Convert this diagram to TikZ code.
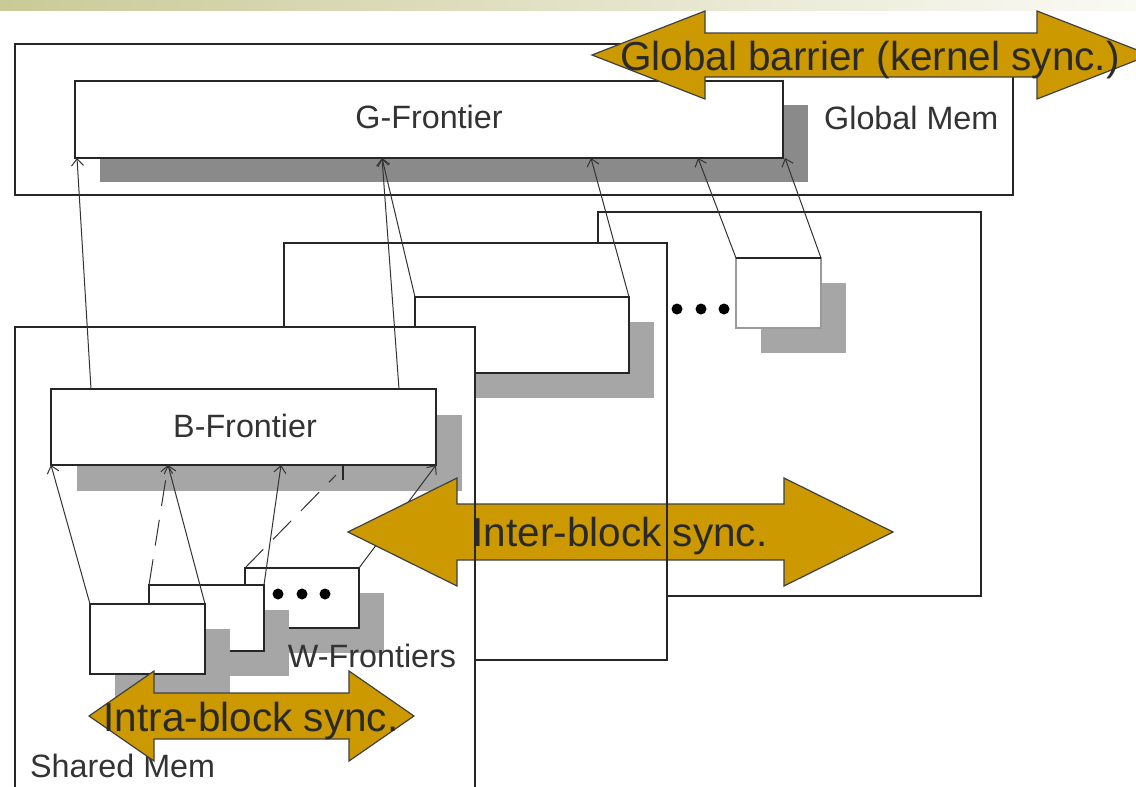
\documentclass[tikz,border=0pt]{standalone}
\usepackage{fontspec}
\setmainfont{Liberation Sans}
\usetikzlibrary{arrows.meta,shadows,calc}

\definecolor{frameink}{HTML}{262626}
\definecolor{wireink}{HTML}{333333}
\definecolor{syncgold}{HTML}{CC9900}
\definecolor{syncedge}{HTML}{404040}
\definecolor{darkshade}{HTML}{8A8A8A}
\definecolor{lightshade}{HTML}{A6A6A6}
\definecolor{labelink}{HTML}{333333}
\definecolor{synctext}{HTML}{2A2A2A}
\definecolor{bannerleft}{HTML}{CACA98}
\definecolor{bannerright}{HTML}{FAFAF5}
\definecolor{softedge}{HTML}{9A9A9A}

\tikzset{
  region/.style 2 args={anchor=north west, inner sep=0pt, outer sep=0pt,
    minimum width=#1, minimum height=#2},
  frame/.style={draw=frameink, line width=1.8pt, fill=white},
  frameedge/.style={draw=frameink, line width=1.8pt},
  shadedark/.style={drop shadow={shadow xshift=25pt, shadow yshift=-24pt,
    fill=darkshade, opacity=1}},
  shadelight/.style={drop shadow={shadow xshift=25pt, shadow yshift=-25pt,
    fill=lightshade, opacity=1}},
  lbl/.style={font=\fontsize{32.3}{38}\selectfont, text=labelink,
    inner sep=0pt, anchor=base},
  synclbl/.style={font=\fontsize{40.5}{46}\selectfont, text=synctext,
    inner sep=0pt, anchor=base},
  wire/.style={draw=wireink, line width=1pt,
    -{Straight Barb[length=7pt,width=12pt]}},
  dashwire/.style={wire, dash pattern=on 26pt off 14pt},
  syncarrow/.style={fill=syncgold, draw=syncedge, line width=1.2pt,
    line join=miter},
  dot/.style={fill=black},
}

\begin{document}
\begin{tikzpicture}[x=1pt,y=-1pt]
\clip (0,0) rectangle (1136,787);
\fill[white] (0,0) rectangle (1136,787);
\shade[left color=bannerleft, right color=bannerright] (0,0) rectangle (1136,10);

% ---------- global memory with the grid-wide frontier ----------
\node[frame, region={998}{151}] (gmem) at (15,44) {};
\node[frame, region={708}{77}, shadedark] (gf) at (75,81) {};
\node[lbl] (gflbl) at (429,128) {G-Frontier};
\node[lbl, anchor=base west] (gmemlbl) at (824,129) {Global Mem};

% ---------- third block (back) ----------
\node[frame, region={383}{384}] (blk3) at (598,212) {};
\node[region={85}{70}, fill=white, draw=softedge, line width=1.5pt, shadelight] (bf3) at (736,258) {};
\draw[frameedge] (bf3.north west) -- (bf3.north east);
\foreach \dx [count=\i] in {677,701,724}
  \fill[dot] (\dx,309) circle (5.5) coordinate (bdot\i);

% ---------- second block ----------
\node[frame, region={383}{417}] (blk2) at (284,243) {};
\node[frame, region={214}{76}, shadelight] (bf2) at (415,297) {};

% ---------- first block (front) ----------
\node[frame, region={460}{480}] (blk1) at (15,327) {};
\node[frame, region={385}{76}, drop shadow={shadow xshift=26pt, shadow yshift=-26pt, fill=lightshade, opacity=1}] (bf1) at (51,389) {};
\node[lbl] (bflbl) at (245,437) {B-Frontier};

% warp frontiers, back to front
\node[frame, region={114}{60}, shadelight] (wc) at (245,568) {};
\node[frame, region={115}{66}, shadelight] (wb) at (149,585) {};
\node[frame, region={115}{70}, shadelight] (wa) at (90,604) {};
\foreach \dx [count=\i] in {278,302,325}
  \fill[dot] (\dx,594) circle (5.5) coordinate (wdot\i);

\node[lbl] (wlbl) at (372,667) {W-Frontiers};
\node[lbl, anchor=base west] (smlbl) at (30,777) {Shared Mem};

% ---------- block frontiers feed the global frontier ----------
\draw[wire] ($(bf1.north west)+(40,0)$) -- ($(gf.south west)+(2,0)$);
\draw[wire] ($(bf1.north west)+(348,0)$) -- ($(gf.south west)+(307,0)$);
\draw[wire] (bf2.north west) -- ($(gf.south west)+(307,0)$);
\draw[wire] (bf2.north east) -- ($(gf.south west)+(516,0)$);
\draw[wire] (bf3.north west) -- ($(gf.south west)+(623,0)$);
\draw[wire] (bf3.north east) -- ($(gf.south east)+(2,0)$);

% ---------- warp frontiers feed the block frontier ----------
\draw[wire] (wa.north west) -- (bf1.south west);
\draw[wire] (wa.north east) -- ($(bf1.south west)+(117,0)$);
\draw[dashwire] (wb.north west) -- ($(bf1.south west)+(117,0)$);
\draw[wire] (wb.north east) -- ($(bf1.south west)+(230,0)$);
\draw[draw=wireink, line width=1pt, dash pattern=on 26pt off 14pt] (wc.north west) -- ($(bf1.south west)+(285,10)$);
\draw[draw=frameink, line width=1.5pt] ($(bf1.south west)+(292,0)$) -- ($(bf1.south west)+(292,15)$);
\draw[wire] (wc.north east) -- (bf1.south east);

% ---------- inter-block synchronisation ----------
\path[syncarrow] (348,532) -- (457,478) -- (457,504) -- (784,504) -- (784,478)
  -- (893,532) -- (784,586) -- (784,560) -- (457,560) -- (457,586) -- cycle;
\node[synclbl] (interlbl) at (620,546) {Inter-block sync.};
% block outlines run across the arrow
\draw[frameedge] (blk1.north east) -- (blk1.south east);
\draw[frameedge] (blk2.north east) -- (blk2.south east);

% ---------- intra-block synchronisation ----------
\path[syncarrow] (89,716) -- (154,671) -- (154,693) -- (349,693) -- (349,671)
  -- (414,716) -- (349,761) -- (349,739) -- (154,739) -- (154,761) -- cycle;
\node[synclbl] (intralbl) at (251,731) {Intra-block sync.};

% ---------- global barrier ----------
\path[syncarrow] (592,55) -- (705,11) -- (705,33) -- (1037,33) -- (1037,11)
  -- (1150,55) -- (1037,99) -- (1037,77) -- (705,77) -- (705,99) -- cycle;
\node[synclbl] (globlbl) at (870,70) {Global barrier (kernel sync.)};
\end{tikzpicture}
\end{document}
